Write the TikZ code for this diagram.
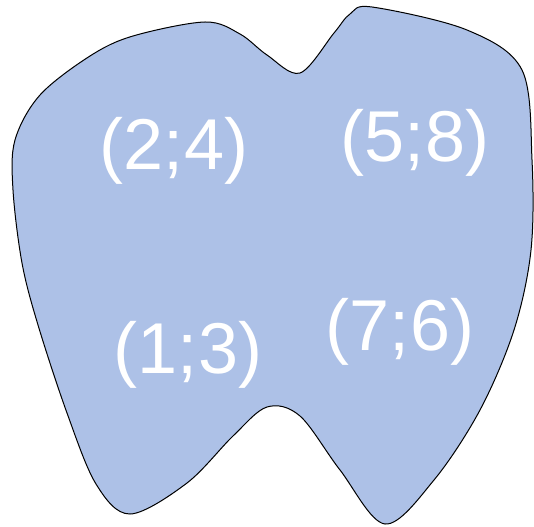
\documentclass[tikz,border=0pt]{standalone}
\usepackage{fontspec}
\setmainfont{Liberation Sans}
\definecolor{blobfill}{RGB}{173,193,231}
\tikzset{pairlbl/.style={text=white,inner sep=0pt,font=\fontsize{72}{76}\selectfont}}
\begin{document}
\begin{tikzpicture}[x=1pt,y=-1pt]
      \useasboundingbox (0,0) rectangle (534,526);
      \draw[fill=blobfill,line width=1pt] plot[smooth cycle,tension=0.55] coordinates {
        (205,22) (133,36) (90,56) (40,95) (15,140) (13,190) (22,263) (38,325)
        (67,413) (96,484) (130,514) (187,483) (233,436) (267,407) (300,416)
        (340,470) (385,524) (434,480) (480,410) (514,330) (531,250) (532,160)
        (522,70) (467,30) (372,7) (350,14) (334,33) (300,73) (267,55) (240,34)};
      \foreach \p/\txt/\nm in {(174,151)/{(2;4)}/ul,(415,143)/{(5;8)}/ur,
                               (188,355)/{(1;3)}/ll,(400,332)/{(7;6)}/lr} {
        \node[pairlbl] (\nm) at \p {\txt};
      }
    \end{tikzpicture}
\end{document}
